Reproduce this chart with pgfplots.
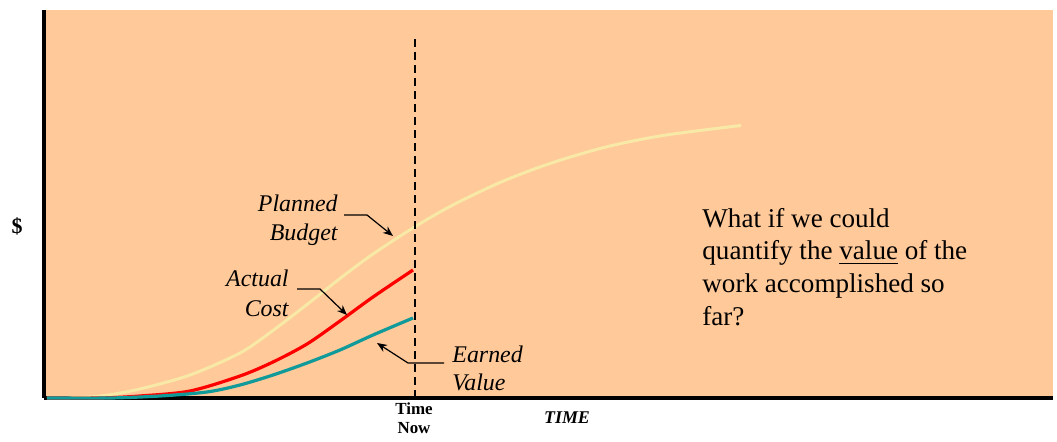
\documentclass[border=0pt]{standalone}
\usepackage{fontspec}
\setmainfont{Liberation Serif}
\usepackage{pgfplots}
\pgfplotsset{compat=1.18}
\usetikzlibrary{arrows.meta}
\definecolor{peach}{HTML}{FFC999}
\definecolor{pbudget}{HTML}{F8E9A6}
\definecolor{acost}{HTML}{FF0000}
\definecolor{evalue}{HTML}{109A9A}
\begin{document}
\begin{tikzpicture}
\begin{axis}[
  scale only axis,
  width=504.5bp, height=194bp,
  xmin=44, xmax=1053, ymin=0, ymax=388,
  axis x line=bottom, axis y line=left,
  axis line style={line width=2bp, -},
  axis background/.style={fill=peach},
  ytick=\empty,
  xtick={414}, xticklabels={Time\\Now},
  xticklabel style={align=center, font=\bfseries\fontsize{8.5}{9.5}\selectfont, yshift=1bp},
  major tick length=0pt,
  clip=false,
]
% invisible bounding box of the whole picture
\path (axis cs:0,-44) rectangle (axis cs:1057,398);
% Planned budget
\addplot[pbudget, line width=1.5bp, smooth, tension=0.5] coordinates {
 (47,0) (80,0.5) (105,2.5) (140,9) (190,23) (240,45) (273,67.5) (307,93.5) (340,119.5) (373,144) (413,170) (450,191.5) (500,215.5) (550,234.5) (606,251) (663,262.5) (741,272.5)};
% Actual cost
\addplot[acost, line width=1.6bp, smooth, tension=0.5] coordinates {
 (47,0) (100,0) (140,2) (190,7) (240,22) (273,36) (307,54) (340,77) (373,101) (413,128)};
% Earned value
\addplot[evalue, line width=1.6bp, smooth, tension=0.5] coordinates {
 (47,0) (110,0) (160,2) (207,6) (240,13) (273,23) (307,35) (340,48) (373,63) (413,80)};
% Time now
\draw[black, line width=1bp, dash pattern=on 4bp off 2.5bp] (axis cs:415,0) -- (axis cs:415,360);
% annotations
\draw[line width=0.6bp, -{Stealth[length=5bp,width=4bp]}] (axis cs:344,183) -- (axis cs:367,183) -- (axis cs:393,162);
\draw[line width=0.6bp, -{Stealth[length=5bp,width=4bp]}] (axis cs:297,109) -- (axis cs:320,109) -- (axis cs:347,83);
\draw[line width=0.6bp, -{Stealth[length=5bp,width=4bp]}] (axis cs:444,35) -- (axis cs:408,35) -- (axis cs:377,55);
\node[anchor=east, align=right, font=\itshape\fontsize{12}{14.5}\selectfont, inner sep=0pt] at (axis cs:338,178) {Planned\\Budget};
\node[anchor=east, align=right, font=\itshape\fontsize{12}{15}\selectfont, inner sep=0pt] at (axis cs:289,105) {Actual\\Cost};
\node[anchor=west, align=left, font=\itshape\fontsize{12}{14}\selectfont, inner sep=0pt] at (axis cs:452,30) {Earned\\Value};
\node[anchor=west, align=left, font=\fontsize{13.6}{16.5}\selectfont, inner sep=0pt] at (axis cs:702,131) {What if we could\\quantify the \underline{value} of the\\work accomplished so\\far?};
\node[font=\bfseries\fontsize{11}{12}\selectfont] at (axis cs:17,172) {\$};
\node[font=\bfseries\itshape\fontsize{9}{10}\selectfont] at (axis cs:567,-20) {TIME};
\end{axis}
\end{tikzpicture}
\end{document}
